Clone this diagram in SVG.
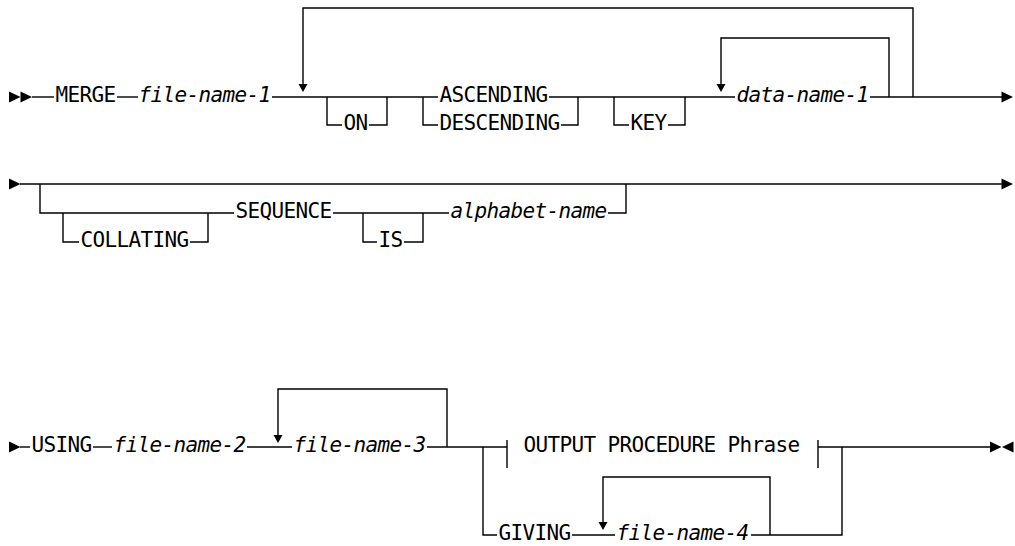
<svg xmlns="http://www.w3.org/2000/svg" width="1015" height="546" viewBox="0 0 1015 546">
<style>
.t{font-family:"DejaVu Sans Mono","Liberation Mono",monospace;font-size:21px;letter-spacing:-0.64px;fill:#000}
.v{font-style:italic}
.c path{fill:none;stroke:#000;stroke-width:1.4}
.a{fill:#000;stroke:none}
</style>
<defs>
<path id="ar" class="a" d="M0,-5.5 L11.5,0 L0,5.5 Z"/>
<path id="al" class="a" d="M0,0 L11.5,-5.5 L11.5,5.5 Z"/>
<path id="ad" class="a" d="M-4.5,-8 L4.5,-8 L0,0 Z"/>
</defs>
<rect width="1015" height="546" fill="#fff"/>
<g id="connectors" class="c">
<path d="M32,97 H54"/>
<path d="M117,97 H138"/>
<path d="M272,97 H438"/>
<path d="M549,97 H735"/>
<path d="M870,97 H1002"/>
<path d="M913,97 V8 H303 V84"/>
<path d="M889,97 V38 H721 V84"/>
<path d="M327,97 V125 H342"/>
<path d="M369,125 H387 V97"/>
<path d="M423,97 V125 H438"/>
<path d="M561,125 H578 V97"/>
<path d="M614,97 V125 H629"/>
<path d="M668,125 H685 V97"/>
<path d="M20,184 H1002"/>
<path d="M40,184 V213 H234"/>
<path d="M63,213 V242 H79"/>
<path d="M190,242 H208 V213"/>
<path d="M333,213 H449"/>
<path d="M363,213 V242 H377"/>
<path d="M404,242 H423 V213"/>
<path d="M608,213 H626 V184"/>
<path d="M20,447 H30"/>
<path d="M93,447 H112"/>
<path d="M247,447 H292"/>
<path d="M427,447 H507"/>
<path d="M447,447 V389 H278 V435"/>
<path d="M507,440 V468"/>
<path d="M818,440 V468"/>
<path d="M818,447 H990"/>
<path d="M483,447 V535 H497"/>
<path d="M572,535 H615"/>
<path d="M751,535 H842 V447"/>
<path d="M770,535 V477 H603 V522"/>
<use href="#ar" x="9" y="97"/>
<use href="#ar" x="20.5" y="97"/>
<use href="#ar" x="1001.5" y="97"/>
<use href="#ar" x="9" y="184"/>
<use href="#ar" x="1001.5" y="184"/>
<use href="#ar" x="9" y="447"/>
<use href="#ar" x="990" y="447"/>
<use href="#al" x="1002" y="447"/>
<use href="#ad" x="303" y="92"/>
<use href="#ad" x="721" y="92"/>
<use href="#ad" x="278" y="443"/>
<use href="#ad" x="603" y="530"/>
</g>
<g id="merge"><text class="t" x="55.5" y="102">MERGE</text></g>
<g id="file-name-1"><text class="t v" x="138.5" y="102">file-name-1</text></g>
<g id="on"><text class="t" x="343.5" y="130">ON</text></g>
<g id="ascending"><text class="t" x="439.5" y="102">ASCENDING</text></g>
<g id="descending"><text class="t" x="439.5" y="130">DESCENDING</text></g>
<g id="key"><text class="t" x="630.5" y="130">KEY</text></g>
<g id="data-name-1"><text class="t v" x="736.5" y="102">data-name-1</text></g>
<g id="collating"><text class="t" x="80.5" y="247">COLLATING</text></g>
<g id="sequence"><text class="t" x="235.5" y="218">SEQUENCE</text></g>
<g id="is"><text class="t" x="378.5" y="247">IS</text></g>
<g id="alphabet-name"><text class="t v" x="450.5" y="218">alphabet-name</text></g>
<g id="using"><text class="t" x="31.5" y="452">USING</text></g>
<g id="file-name-2"><text class="t v" x="113.5" y="452">file-name-2</text></g>
<g id="file-name-3"><text class="t v" x="293.5" y="452">file-name-3</text></g>
<g id="output-procedure"><text class="t" x="523.5" y="452">OUTPUT PROCEDURE Phrase</text></g>
<g id="giving"><text class="t" x="498.5" y="540">GIVING</text></g>
<g id="file-name-4"><text class="t v" x="616.5" y="540">file-name-4</text></g>
</svg>
